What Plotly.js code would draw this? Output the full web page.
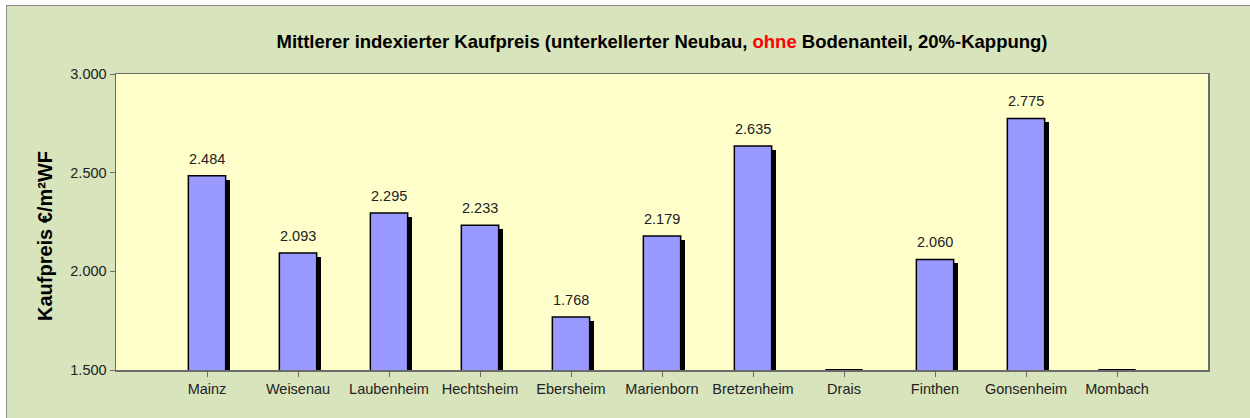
<!DOCTYPE html>
<html>
<head>
<meta charset="utf-8">
<script src="https://cdn.plot.ly/plotly-3.0.1.min.js"></script>
<style>
html,body{margin:0;padding:0;background:#ffffff;overflow:hidden;}
#wrap{position:absolute;left:6px;top:5px;width:1244px;height:413px;border-left:1px solid #8c8c8c;border-top:1px solid #8c8c8c;background:#d8e4bc;}
#chart{position:absolute;left:0;top:0;width:1243px;height:412px;}
</style>
</head>
<body>
<div id="wrap"><div id="chart"></div></div>
<script>
// Data
const categories = ["Mainz","Weisenau","Laubenheim","Hechtsheim","Ebersheim","Marienborn","Bretzenheim","Drais","Finthen","Gonsenheim","Mombach"];
const prices = [2484, 2093, 2295, 2233, 1768, 2179, 2635, null, 2060, 2775, null];
const yTicks = [1500, 2000, 2500, 3000];
const yRange = [1500, 3000];
const yTitle = "Kaufpreis €/m²WF";

const fmt = v => v === null ? "" : v.toLocaleString("de-DE");

const barW = 0.41;
const shadowDx = 0.045;
const shadowDy = 20;
const FONT = "Arial, Liberation Sans, sans-serif";

const shadow = {
  type: "bar",
  x: categories,
  y: prices.map(v => v === null ? null : v - shadowDy),
  width: barW,
  offset: -barW/2 + shadowDx,
  marker: {color: "#000000", line: {width: 0}},
  hoverinfo: "skip",
  showlegend: false
};
const main = {
  type: "bar",
  x: categories,
  y: prices,
  width: barW,
  offset: -barW/2,
  marker: {color: "#9999ff", line: {color: "#000000", width: 1.5}},
  showlegend: false
};
const noData = {
  type: "bar",
  x: categories,
  y: prices.map(v => v === null ? 0 : null),
  base: yRange[0],
  width: barW,
  offset: -barW/2,
  marker: {color: "#000000", line: {color: "#000000", width: 2}},
  hoverinfo: "skip",
  showlegend: false
};

const labels = [];
categories.forEach((c, i) => {
  if (prices[i] !== null) {
    labels.push({
      x: c, y: prices[i], xref: "x", yref: "y",
      text: fmt(prices[i]), showarrow: false,
      yanchor: "bottom", yshift: 7,
      font: {family: FONT, size: 14.5, color: "#222222"}
    });
  }
});
labels.push({
  x: 0, xref: "paper", xanchor: "center", xshift: -71,
  y: 0.5, yref: "paper", yanchor: "middle", yshift: -14,
  textangle: -90, showarrow: false,
  text: "<b>" + yTitle + "</b>",
  font: {family: FONT, size: 20, color: "#000000"}
});

const layout = {
  width: 1243, height: 412,
  margin: {l: 109, r: 42, t: 68, b: 48},
  paper_bgcolor: "#d8e4bc",
  plot_bgcolor: "#ffffcc",
  separators: ",.",
  barmode: "overlay",
  font: {family: FONT, size: 14.5, color: "#222222"},
  title: {
    text: '<b>Mittlerer indexierter Kaufpreis (unterkellerter Neubau, <span style="color:#ff0000">ohne</span> Bodenanteil, 20%-Kappung)</b>',
    font: {family: FONT, size: 18.5, color: "#000000"},
    xref: "paper", x: 0.5, xanchor: "center",
    yref: "container", y: 0.913, yanchor: "middle"
  },
  annotations: labels,
  xaxis: {
    type: "category",
    range: [-1, categories.length],
    showline: true, linecolor: "#6b6b6b", linewidth: 1.5, mirror: true,
    ticks: "outside", ticklen: 5, tickcolor: "#6b6b6b",
    showgrid: false, zeroline: false,
    tickfont: {size: 14.5, color: "#222222"},
    fixedrange: true
  },
  yaxis: {
    range: yRange,
    tickvals: yTicks,
    ticktext: yTicks.map(fmt),
    showline: true, linecolor: "#6b6b6b", linewidth: 1.5, mirror: true,
    ticks: "outside", ticklen: 5, tickcolor: "#6b6b6b",
    showgrid: false, zeroline: false,
    tickfont: {size: 14.5, color: "#222222"},
    automargin: false,
    fixedrange: true
  },
  bargap: 0
};

Plotly.newPlot("chart", [shadow, main, noData], layout, {displayModeBar: false, staticPlot: true});
</script>
</body>
</html>
